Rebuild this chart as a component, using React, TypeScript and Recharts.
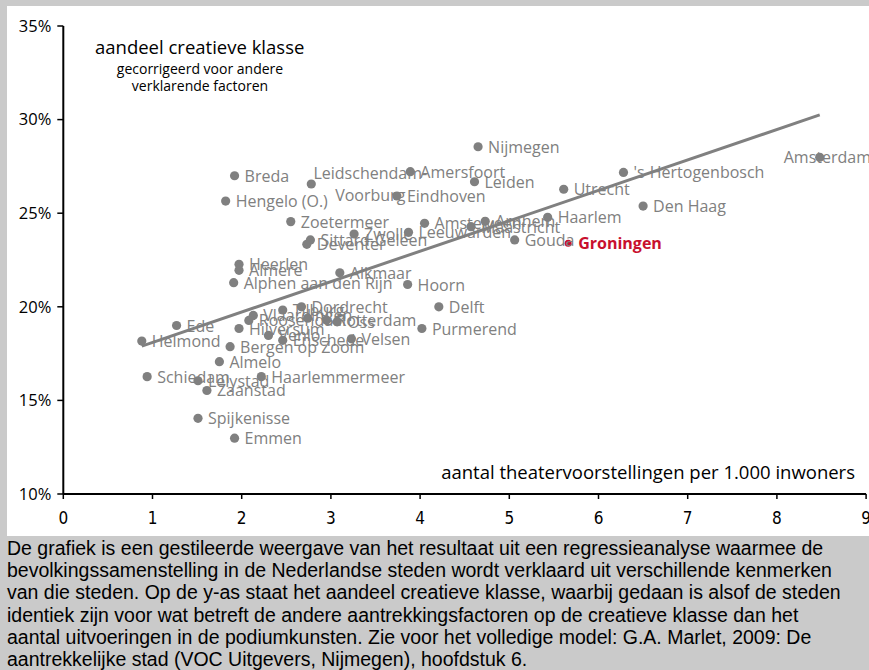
import React from "react";
import { ReferenceLine, Scatter, ScatterChart, XAxis, YAxis } from "recharts";

// cities (x = theatre shows per 1,000 inhabitants, y = % creative class)
const cities = [
  "Amsterdam", "'s-Hertogenbosch", "Utrecht", "Den Haag", "Haarlem", "Groningen", "Gouda",
  "Nijmegen", "Leiden", "Amersfoort", "Leidschendam-Voorburg", "Eindhoven", "Breda",
  "Hengelo (O.)", "Zoetermeer", "Sittard-Geleen", "Deventer", "Zwolle", "Leeuwarden",
  "Amstelveen", "Maastricht", "Arnhem", "Heerlen", "Almere", "Alphen aan den Rijn", "Alkmaar",
  "Hoorn", "Delft", "Purmerend", "Dordrecht", "Tilburg", "Vlaardingen", "Roosendaal",
  "Hilversum", "Venlo", "Enschede", "", "Rotterdam", "Oss", "Velsen", "Bergen op Zoom", "Ede",
  "Helmond", "Almelo", "Schiedam", "Lelystad", "Zaanstad", "Haarlemmermeer", "Spijkenisse",
  "Emmen",
];
const theaterPerThousand = [
  8.48, 6.28, 5.61, 6.5, 5.43, 5.66, 5.06,
  4.65, 4.61, 3.89, 2.78, 3.74, 1.92,
  1.82, 2.55, 2.77, 2.73, 3.26, 3.87,
  4.05, 4.57, 4.73, 1.97, 1.97, 1.91, 3.1,
  3.86, 4.21, 4.02, 2.67, 2.46, 2.13, 2.08,
  1.97, 2.3, 2.46, 2.74, 2.95, 3.07, 3.23, 1.87, 1.27,
  0.88, 1.75, 0.94, 1.51, 1.61, 2.22, 1.51,
  1.92,
];
const creativeShare = [
  27.99, 27.18, 26.28, 25.38, 24.78, 23.39, 23.57,
  28.55, 26.68, 27.22, 26.56, 25.92, 27.0,
  25.65, 24.55, 23.57, 23.34, 23.89, 23.98,
  24.46, 24.28, 24.57, 22.27, 21.95, 21.29, 21.82,
  21.19, 20.0, 18.84, 20.0, 19.83, 19.54, 19.27,
  18.84, 18.47, 18.21, 19.39, 19.29, 19.2, 18.29, 17.87, 19.0,
  18.17, 17.07, 16.27, 16.05, 15.53, 16.27, 14.04,
  12.98,
];

// regression line end points
const trendX = [0.88, 8.48];
const trendY = [17.9, 30.25];

const xTicks = [0, 1, 2, 3, 4, 5, 6, 7, 8, 9];
const yTicks = [10, 15, 20, 25, 30, 35];
const highlightCity = "Groningen";

const captionLines = [
  "De grafiek is een gestileerde weergave van het resultaat uit een regressieanalyse waarmee de",
  "bevolkingssamenstelling in de Nederlandse steden wordt verklaard uit verschillende kenmerken",
  "van die steden. Op de y-as staat het aandeel creatieve klasse, waarbij gedaan is alsof de steden",
  "identiek zijn voor wat betreft de andere aantrekkingsfactoren op de creatieve klasse dan het",
  "aantal uitvoeringen in de podiumkunsten. Zie voor het volledige model: G.A. Marlet, 2009: De",
  "aantrekkelijke stad (VOC Uitgevers, Nijmegen), hoofdstuk 6.",
];

const GREY = "#808080";
const RED = "#c8102e";
const PANEL = "#cacaca";
const FONT = "'Open Sans', 'Noto Sans', sans-serif";
const NARROW = "'Liberation Sans Narrow', 'DejaVu Sans Condensed', sans-serif";

const points = cities.map((name, i) => ({
  name,
  x: theaterPerThousand[i],
  y: creativeShare[i],
}));

const CityDot = (props: any) => {
  const { cx, cy, payload } = props;
  const name: string = payload.name;
  const hi = name === highlightCity;

  let label: React.ReactNode = null;
  if (name === "Leidschendam-Voorburg") {
    // two-line centred label
    label = (
      <text x={cx + 59} textAnchor="middle" fill={GREY} fontSize={16} fontFamily={FONT}>
        <tspan x={cx + 59} y={cy - 11} dominantBaseline="central">Leidschendam-</tspan>
        <tspan x={cx + 59} y={cy + 11} dominantBaseline="central">Voorburg</tspan>
      </text>
    );
  } else if (name) {
    label = (
      <text
        x={name === "Amsterdam" ? cx - 36 : cx + 10}
        y={cy}
        dominantBaseline="central"
        fill={hi ? RED : GREY}
        fontWeight={hi ? 700 : 400}
        fontSize={16}
        fontFamily={FONT}
      >
        {name}
      </text>
    );
  }

  return (
    <g>
      <circle cx={cx} cy={cy} r={hi ? 3.5 : 4.6} fill={hi ? RED : GREY} />
      {label}
    </g>
  );
};

export default function App() {
  return (
    <div
      style={{
        position: "absolute",
        left: 0,
        top: 0,
        width: 869,
        height: 670,
        background: PANEL,
        overflow: "hidden",
        fontFamily: FONT,
      }}
    >
      <div style={{ position: "absolute", left: 7, top: 6, width: 862, height: 530, background: "#fff" }} />

      {/* annotations */}
      <div style={{ position: "absolute", left: 95, top: 34, fontSize: 18.5, color: "#000", whiteSpace: "nowrap" }}>
        aandeel creatieve klasse
      </div>
      <div
        style={{
          position: "absolute",
          left: 80,
          top: 61,
          width: 240,
          fontSize: 14,
          lineHeight: "16.5px",
          textAlign: "center",
          color: "#000",
        }}
      >
        gecorrigeerd voor andere
        <br />
        verklarende factoren
      </div>
      <div
        style={{ position: "absolute", right: 14, top: 459, fontSize: 18.5, color: "#000", whiteSpace: "nowrap" }}
      >
        aantal theatervoorstellingen per 1.000 inwoners
      </div>

      <div style={{ position: "absolute", left: 0, top: 0 }}>
        <ScatterChart width={869} height={536} margin={{ top: 26, right: 2.9, bottom: 12, left: 0 }}>
          <XAxis
            type="number"
            dataKey="x"
            domain={[0, 9]}
            ticks={xTicks}
            interval={0}
            height={30}
            axisLine={{ stroke: "#000", strokeWidth: 2 }}
            tickLine={{ stroke: "#000", strokeWidth: 1.5 }}
            tickSize={5}
            tickMargin={13}
            tick={{ fill: "#000", fontSize: 17, fontFamily: NARROW }}
          />
          <YAxis
            type="number"
            dataKey="y"
            domain={[10, 35]}
            ticks={yTicks}
            interval={0}
            width={63.3}
            tickFormatter={(v: number) => `${v}%`}
            axisLine={{ stroke: "#000", strokeWidth: 2 }}
            tickLine={{ stroke: "#000", strokeWidth: 1.5 }}
            tickSize={6}
            tickMargin={6}
            tick={{ fill: "#000", fontSize: 16.5, fontFamily: FONT }}
          />
          <Scatter data={points} shape={CityDot} isAnimationActive={false} />
          <ReferenceLine
            segment={[
              { x: trendX[0], y: trendY[0] },
              { x: trendX[1], y: trendY[1] },
            ]}
            stroke={GREY}
            strokeWidth={3}
          />
        </ScatterChart>
      </div>

      {/* caption */}
      <div
        style={{
          position: "absolute",
          left: 7,
          top: 537,
          fontFamily: "'Liberation Sans', Arial, sans-serif",
          fontSize: 19.5,
          lineHeight: "22.2px",
          color: "#000",
          whiteSpace: "nowrap",
        }}
      >
        {captionLines.map((line, i) => (
          <div key={i}>{line}</div>
        ))}
      </div>
    </div>
  );
}
